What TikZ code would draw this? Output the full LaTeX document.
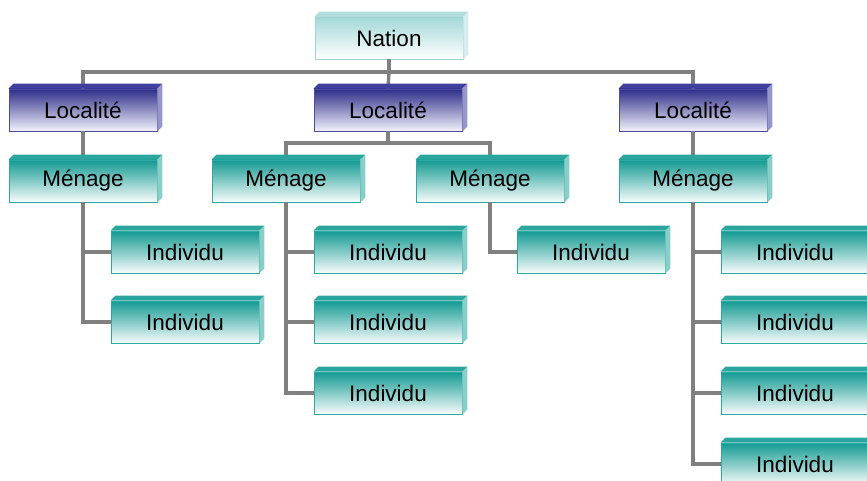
\documentclass[tikz,border=0pt]{standalone}
\usepackage{fontspec}
\setmainfont{Liberation Sans}
\definecolor{natTop}{HTML}{A4D8D8}
\definecolor{natLine}{HTML}{A0D4D4}
\definecolor{natFace}{HTML}{B4DEDE}
\definecolor{locTop}{HTML}{2E2E8A}
\definecolor{locBot}{HTML}{F2F2FC}
\definecolor{locLine}{HTML}{4B4BA0}
\definecolor{locFace}{HTML}{4040A0}
\definecolor{menTop}{HTML}{149A92}
\definecolor{menBot}{HTML}{F8FCFC}
\definecolor{menLine}{HTML}{2BAAA2}
\definecolor{menFace}{HTML}{2AA69E}
\definecolor{linkGray}{HTML}{808080}
\tikzset{
  bloc/.style={minimum width=148pt, minimum height=42pt, inner sep=0pt,
    font=\fontsize{22.5}{25}\selectfont, line width=0.8pt},
  nation/.style={bloc, draw=natLine, top color=natTop, middle color=natTop!40!white, bottom color=white},
  localite/.style={bloc, draw=locLine, top color=locTop, middle color=locTop!40!locBot, bottom color=locBot},
  menage/.style={bloc, draw=menLine, top color=menTop, middle color=menTop!40!menBot, bottom color=menBot},
  link/.style={draw=linkGray, line width=3.4pt},
}

\begin{document}
\begin{tikzpicture}[x=1pt, y=-1pt]
    \useasboundingbox (0,0) rectangle (867,481);
    \clip (0,0) rectangle (867,481);
    % niveau national
    \node[nation] (nat) at (389,38) {Nation};
    % localites
    \node[localite] (loc1) at (83,110) {Localité};
    \node[localite] (loc2) at (388,110) {Localité};
    \node[localite] (loc3) at (693,110) {Localité};
    % menages
    \node[menage] (men1) at (83,181) {Ménage};
    \node[menage] (men2) at (286,181) {Ménage};
    \node[menage] (men3) at (490,181) {Ménage};
    \node[menage] (men4) at (693,181) {Ménage};
    % individus
    \node[menage] (ind11) at (185,252) {Individu};
    \node[menage] (ind12) at (185,322) {Individu};
    \node[menage] (ind21) at (388,252) {Individu};
    \node[menage] (ind22) at (388,322) {Individu};
    \node[menage] (ind23) at (388,393) {Individu};
    \node[menage] (ind31) at (591,252) {Individu};
    \node[menage] (ind41) at (795,252) {Individu};
    \node[menage] (ind42) at (795,322) {Individu};
    \node[menage] (ind43) at (795,393) {Individu};
    \node[menage] (ind44) at (795,464) {Individu};
    % liaisons
    \coordinate (bus) at (389,72);
    \coordinate (bus2) at (388,143);
    \draw[link] (nat.south) -- (bus);
    \draw[link] (loc1.north) |- (bus) -| (loc3.north);
    \draw[link] (bus) -- (loc2.north);
    \draw[link] (loc1.south) -- (men1.north);
    \draw[link] (loc3.south) -- (men4.north);
    \draw[link] (loc2.south) -- (bus2);
    \draw[link] (men2.north) |- (bus2) -| (men3.north);
    \draw[link] (men1.south) |- (ind11.west);
    \draw[link] (men1.south) |- (ind12.west);
    \foreach \i in {1,2,3}
      \draw[link] (men2.south) |- (ind2\i.west);
    \draw[link] (men3.south) |- (ind31.west);
    \foreach \i in {1,...,4}
      \draw[link] (men4.south) |- (ind4\i.west);
    % faces du dessus et de cote
    \foreach \n/\c in {nat/nat, loc1/loc, loc2/loc, loc3/loc, men1/men, men2/men, men3/men, men4/men,
        ind11/men, ind12/men, ind21/men, ind22/men, ind23/men, ind31/men, ind41/men, ind42/men, ind43/men, ind44/men} {
      \fill[\c Face] (\n.north west) -- ++(5,-5) -- ([shift={(5,-5)}]\n.north east) -- (\n.north east) -- cycle;
      \fill[\c Face!55!white] (\n.north east) -- ++(5,-5) -- ([shift={(5,-5)}]\n.south east) -- (\n.south east) -- cycle;
    }
\end{tikzpicture}
\end{document}
